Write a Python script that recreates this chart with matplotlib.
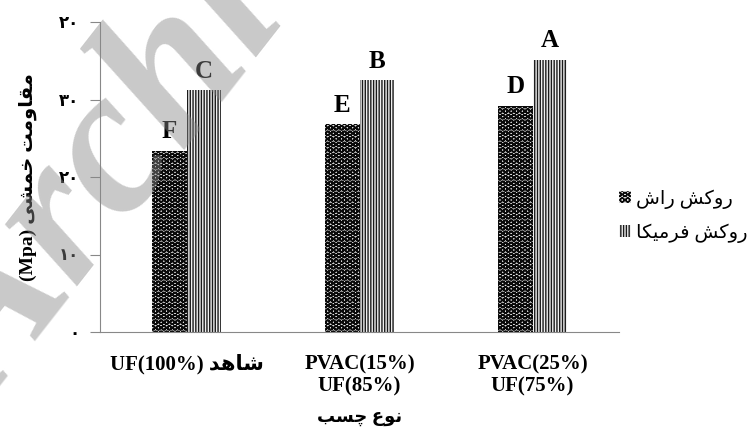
import numpy as np
import matplotlib
matplotlib.use("Agg")
import matplotlib.pyplot as plt

# حروف فارسی: (تنها، پایانی، آغازی، میانی) - None یعنی به بعدی نمی‌چسبد
forms = {
    'ا': ('\uFE8D', '\uFE8E', None, None),
    'ب': ('\uFE8F', '\uFE90', '\uFE91', '\uFE92'),
    'ت': ('\uFE95', '\uFE96', '\uFE97', '\uFE98'),
    'خ': ('\uFEA5', '\uFEA6', '\uFEA7', '\uFEA8'),
    'د': ('\uFEA9', '\uFEAA', None, None),
    'ر': ('\uFEAD', '\uFEAE', None, None),
    'س': ('\uFEB1', '\uFEB2', '\uFEB3', '\uFEB4'),
    'ش': ('\uFEB5', '\uFEB6', '\uFEB7', '\uFEB8'),
    'ع': ('\uFEC9', '\uFECA', '\uFECB', '\uFECC'),
    'ف': ('\uFED1', '\uFED2', '\uFED3', '\uFED4'),
    'ق': ('\uFED5', '\uFED6', '\uFED7', '\uFED8'),
    'م': ('\uFEE1', '\uFEE2', '\uFEE3', '\uFEE4'),
    'ن': ('\uFEE5', '\uFEE6', '\uFEE7', '\uFEE8'),
    'ه': ('\uFEE9', '\uFEEA', '\uFEEB', '\uFEEC'),
    'و': ('\uFEED', '\uFEEE', None, None),
    'ی': ('\uFBFC', '\uFBFD', '\uFBFE', '\uFBFF'),
    'ک': ('\uFB8E', '\uFB8F', '\uFB90', '\uFB91'),
    'چ': ('\uFB7A', '\uFB7B', '\uFB7C', '\uFB7D'),
}


def fa(text):
    out = []
    for i, ch in enumerate(text):
        if ch not in forms:
            out.append(ch)
            continue
        prev = text[i - 1] if i > 0 else None
        nxt = text[i + 1] if i + 1 < len(text) else None
        jp = prev in forms and forms[prev][2] is not None
        jn = forms[ch][2] is not None and nxt in forms
        iso, fin, ini, med = forms[ch]
        if jp and jn:
            out.append(med)
        elif jp:
            out.append(fin)
        elif jn:
            out.append(ini)
        else:
            out.append(iso)
    return ''.join(reversed(out))


groups = ['UF(100%) ' + fa('شاهد'), 'PVAC(15%)\nUF(85%)', 'PVAC(25%)\nUF(75%)']
rash = [23.4, 26.8, 29.2]        # روکش راش
formica = [31.2, 32.5, 35.1]     # روکش فرمیکا
rash_letters = ['F', 'E', 'D']
formica_letters = ['C', 'B', 'A']
yticks = [0, 10, 20, 30, 40]
ytick_labels = ['۰', '۱۰', '۲۰', '۳۰', '۲۰']

fonts = ['Liberation Serif', 'DejaVu Sans']
plt.rcParams['font.family'] = fonts

fig = plt.figure(figsize=(7.55, 4.3), dpi=100)
ax = fig.add_axes([100 / 755, 1 - 332 / 430, 519 / 755, 310 / 430])

x = np.arange(len(groups))
w = 0.2
with plt.rc_context({'hatch.linewidth': 1.2}):
    b1 = ax.bar(x - w / 2, rash, w, facecolor='#e0e0e0', edgecolor='#0a0a0a',
                hatch='OOO', linewidth=0, label=fa('روکش راش'))
with plt.rc_context({'hatch.linewidth': 1.0}):
    b2 = ax.bar(x + w / 2, formica, w, facecolor='#f0f0f0', edgecolor='#1a1a1a',
                hatch='||||||', linewidth=0, label=fa('روکش فرمیکا'))

for xi, v, s in zip(x - w / 2, rash, rash_letters):
    ax.annotate(s, (xi, v), xytext=(0, 9), textcoords='offset points',
                ha='center', va='baseline', fontsize=18, fontweight='bold')
for xi, v, s in zip(x + w / 2, formica, formica_letters):
    ax.annotate(s, (xi, v), xytext=(0, 9), textcoords='offset points',
                ha='center', va='baseline', fontsize=18, fontweight='bold')

ax.set_xlim(-0.5, 2.5)
ax.set_ylim(0, 40)
ax.set_yticks(yticks)
ax.set_yticklabels(ytick_labels, fontsize=12, fontweight='bold')
ax.set_xticks(x)
ax.set_xticklabels(groups, fontsize=15, fontweight='bold', linespacing=1.15)
ax.tick_params(axis='x', length=0, pad=16)
ax.tick_params(axis='y', length=7, color='#888888', pad=8)
for s in ['top', 'right']:
    ax.spines[s].set_visible(False)
for s in ['left', 'bottom']:
    ax.spines[s].set_color('#888888')

ax.set_ylabel('(Mpa) ' + fa('مقاومت خمشی'), fontsize=14, fontweight='bold', labelpad=16)
ax.set_xlabel(fa('نوع چسب'), fontsize=13, fontweight='bold', labelpad=9)

fig.legend(handles=[b1, b2], loc='center left', bbox_to_anchor=(619 / 755, 1 - 216 / 430),
           frameon=False, fontsize=14, handlelength=0.6, handleheight=0.6,
           handletextpad=0.3, labelspacing=0.75, borderpad=0, borderaxespad=0)

# واترمارک
fig.text(-0.008, 0.055, 'Archive', rotation=52, rotation_mode='anchor',
         fontsize=150, fontstyle='italic', fontweight='bold', color='#888888',
         alpha=0.45, ha='left', va='baseline', zorder=10)

fig.savefig('out.png', dpi=100)
